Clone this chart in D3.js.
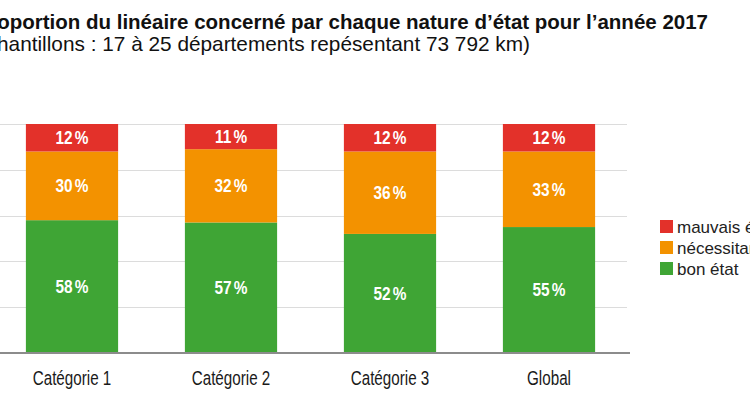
<!DOCTYPE html>
<html><head><meta charset="utf-8">
<script src="https://cdn.jsdelivr.net/npm/d3@7"></script>
<style>
body{margin:0;background:#fff;}
svg{display:block;}
</style></head>
<body><svg id="c" width="750" height="400"></svg>
<script>
const categories = ["Catégorie 1", "Catégorie 2", "Catégorie 3", "Global"];
const bonEtat = [58, 57, 52, 55];
const necessitant = [30, 32, 36, 33];
const mauvais = [12, 11, 12, 12];
const seriesNames = ["bon état", "nécessitant des travaux", "mauvais état"];
const seriesColors = ["#3fa535", "#f39200", "#e3312a"];
const yTicks = [0, 20, 40, 60, 80, 100];
const title = "Proportion du linéaire concerné par chaque nature d’état pour l’année 2017";
const subtitle = "(Échantillons : 17 à 25 départements repésentant 73 792 km)";

const svg = d3.select("#c");
const font = "'Liberation Sans',Arial,Helvetica,sans-serif";
const plotTop = 124, plotBottom = 353;
const x = d3.scaleBand().domain(categories).range([-7.5, 628.5]).paddingInner(0.42).paddingOuter(0.21);
const y = d3.scaleLinear().domain([0, 100]).range([plotBottom, plotTop]);

const data = categories.map((c, i) => ({cat: c, s0: bonEtat[i], s1: necessitant[i], s2: mauvais[i]}));
const stack = d3.stack().keys(["s0", "s1", "s2"])(data);

// grid
svg.append("g").selectAll("line").data(yTicks.slice(1)).join("line")
  .attr("x1", 0).attr("x2", 627).attr("y1", d => Math.round(y(d)) + 0.5).attr("y2", d => Math.round(y(d)) + 0.5)
  .attr("stroke", "#dcdcdc").attr("stroke-width", 1);

// bars
const g = svg.append("g");
stack.forEach((layer, li) => {
  g.append("g").selectAll("rect").data(layer).join("rect")
    .attr("x", d => x(d.data.cat)).attr("width", x.bandwidth())
    .attr("y", d => y(d[1])).attr("height", d => y(d[0]) - y(d[1]))
    .attr("fill", seriesColors[li]);
  const t = g.append("g").selectAll("text").data(layer).join("text")
    .attr("transform", d => `translate(${x(d.data.cat) + x.bandwidth() / 2},${(y(d[0]) + y(d[1])) / 2}) scale(0.88,1)`)
    .attr("dy", "0.36em")
    .attr("text-anchor", "middle")
    .attr("fill", "#fff")
    .attr("font-family", font).attr("font-weight", "bold").attr("font-size", 17.5);
  t.append("tspan").text(d => (d[1] - d[0]));
  t.append("tspan").attr("dx", 2.5).text("%");
});

// x axis
const xa = svg.append("g").attr("transform", `translate(0,${plotBottom})`)
  .call(d3.axisBottom(x).tickSize(0).tickPadding(0));
xa.select(".domain").attr("d", "M0,0H630").attr("stroke", "#8c8c8c").attr("stroke-width", 2);
xa.selectAll(".tick text").attr("y", 0).attr("dy", 0)
  .attr("transform", "translate(0,32) scale(0.78,1)")
  .attr("font-family", font).attr("font-size", 19.5).attr("fill", "#1a1a1a");

// title
svg.append("text").attr("x", 708).attr("y", 29).attr("text-anchor", "end")
  .attr("font-family", font).attr("font-weight", "bold")
  .attr("font-size", 20.5).attr("fill", "#111").text(title);
svg.append("text").attr("x", 530).attr("y", 51).attr("text-anchor", "end")
  .attr("font-family", font)
  .attr("font-size", 20.8).attr("fill", "#111").text(subtitle);

// legend
const legendOrder = [2, 1, 0];
const lg = svg.append("g").attr("transform", "translate(660,220)");
legendOrder.forEach((si, k) => {
  lg.append("rect").attr("x", 0).attr("y", k * 21).attr("width", 13).attr("height", 13).attr("fill", seriesColors[si]);
  lg.append("text").attr("x", 17).attr("y", k * 21 + 7).attr("dy", "0.36em")
    .attr("font-family", font).attr("font-size", 17).attr("fill", "#222")
    .text(seriesNames[si]);
});
</script></body></html>
